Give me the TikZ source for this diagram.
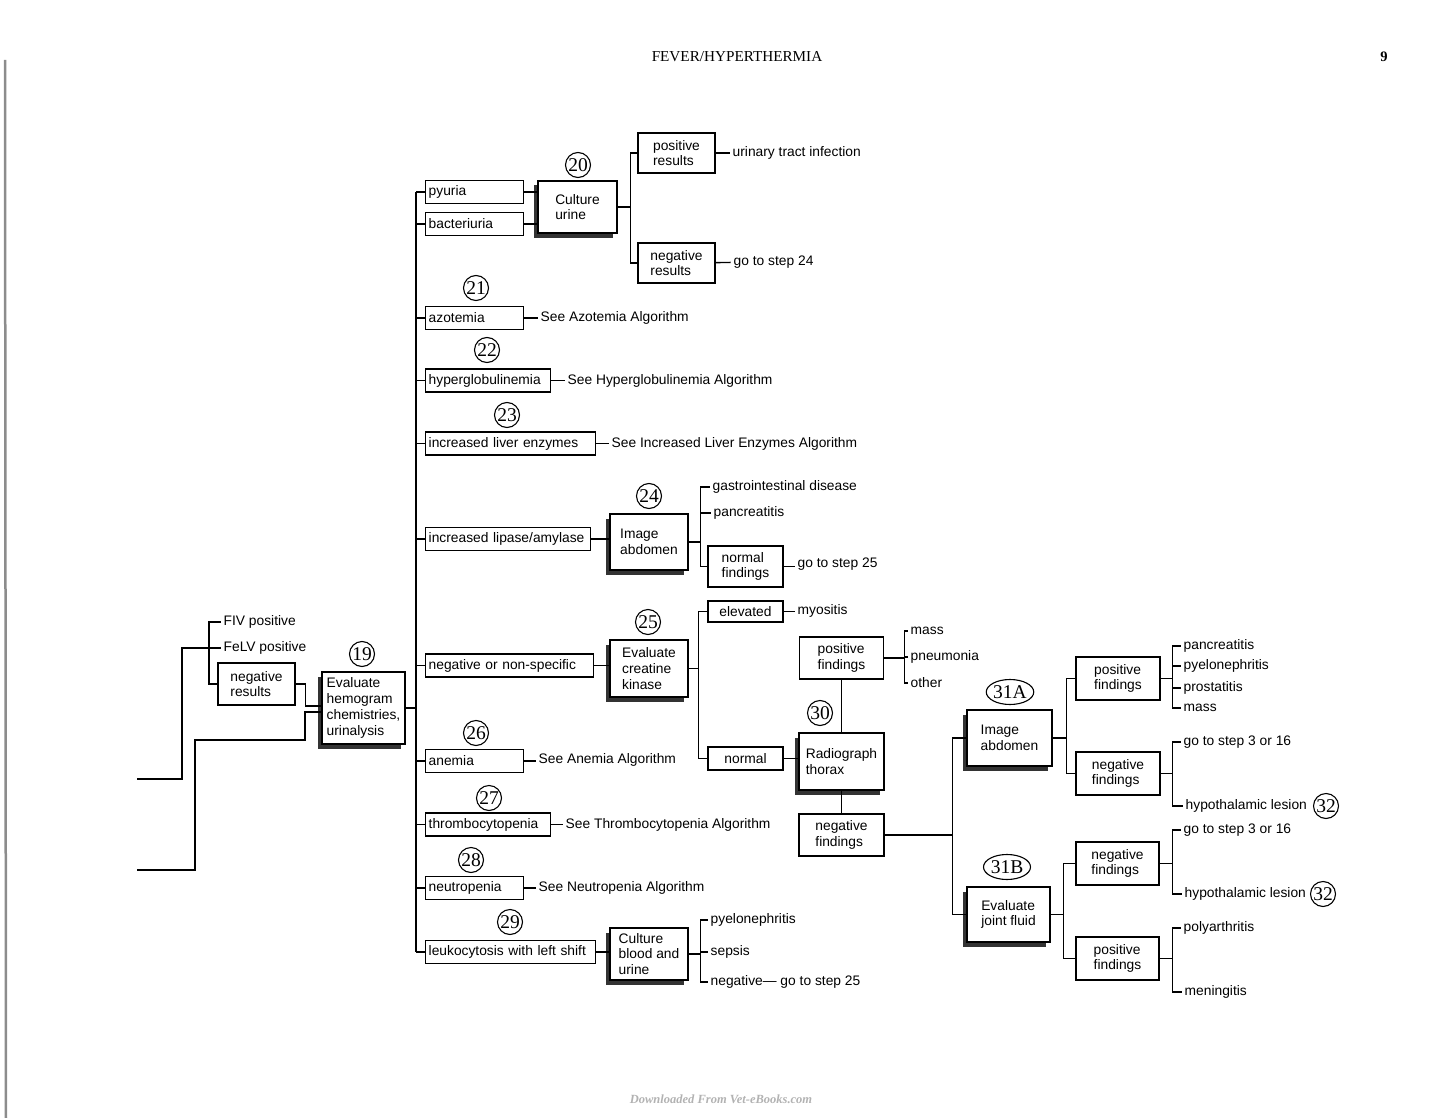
\documentclass[tikz,border=0pt]{standalone}
\usepackage{fontspec}
\setmainfont{Liberation Serif}
\setsansfont{Liberation Sans}
\usetikzlibrary{shadows,shapes.geometric,calc}

\tikzset{
  txt/.style={font=\sffamily\fontsize{13.8}{15.8}\selectfont},
  cond/.style={txt, draw, fill=white, anchor=west, align=left, text width=#1,
    inner xsep=3pt, inner ysep=0pt, minimum height=23pt},
  find/.style={txt, draw, fill=white, align=left, inner sep=0pt},
  stepbox/.style={find, drop shadow={shadow xshift=-4.5pt, shadow yshift=-4.5pt,
    fill=black!80, opacity=1}},
  leaf/.style={txt, anchor=west, inner xsep=2.5pt, inner ysep=1pt},
  num/.style={draw, circle, line width=1.1pt, inner sep=0pt, minimum size=25pt,
    font=\fontsize{19.5}{19.5}\selectfont},
  numo/.style={num, ellipse, minimum width=47pt, minimum height=25pt}
}

\begin{document}
\begin{tikzpicture}[x=1pt, y=-1pt, line width=1.4pt]
\useasboundingbox (0,0) rectangle (1445,1118);
\draw (737,57) node[font=\fontsize{15.2}{15.2}\selectfont] (title) {FEVER/HYPERTHERMIA};
\draw (1384,57) node[font=\bfseries\fontsize{14.5}{14.5}\selectfont] (pagenum) {9};
\draw[black!45, line width=2.5pt] (5,60) -- (6,1118);
\draw (721,1099) node[font=\bfseries\itshape\fontsize{12.5}{12.5}\selectfont, text=black!30] (wm) {Downloaded From Vet-eBooks.com};

\draw (363.5,708) node[stepbox, minimum width=83pt, minimum height=72pt] (b19) {Evaluate\\hemogram\\chemistries,\\urinalysis};
\draw (362,654) node[num] (c19) {19};
\draw (220.5,622) node[leaf] (fiv) {FIV positive};
\draw (220.5,648) node[leaf] (felv) {FeLV positive};
\draw (256.5,684) node[find, minimum width=77pt, minimum height=42pt] (neg0) {negative\\results};
\coordinate (in1) at (137,779);
\coordinate (in2) at (137,870);
\coordinate (s0) at (209,622);
\draw (in1) -- ++(45,0) |- (s0 |- felv.west);
\draw (s0 |- felv.west) -- (felv.west);
\draw (fiv.west) -- (s0) -- (s0 |- neg0.west) -- (neg0.west);
\draw (neg0.east) -- ++(10,0) |- ($(b19.west)+(0,-2)$);
\draw (in2) -- ++(58,0) -- ++(0,-130) -- ++(110,0) |- ($(b19.west)+(0,4)$);

\draw (425,192) node[cond=92pt] (pyuria) {pyuria};
\draw (425,224) node[cond=92pt] (bact) {bacteriuria};
\draw (425,318) node[cond=92pt] (azot) {azotemia};
\draw (425,380.5) node[cond=119pt] (hyper) {hyperglobulinemia};
\draw (425,443.5) node[cond=164pt] (liver) {increased liver enzymes};
\draw (425,539) node[cond=159pt] (lipase) {increased lipase/amylase};
\draw (425,665.5) node[cond=162pt] (nonspec) {negative or non-specific};
\draw (425,761) node[cond=92pt] (anemia) {anemia};
\draw (425,824.5) node[cond=119pt] (thromb) {thrombocytopenia};
\draw (425,888) node[cond=92pt] (neutro) {neutropenia};
\draw (425,952) node[cond=164pt] (leuko) {leukocytosis with left shift};
\coordinate (trunk) at (416,708);
\draw (b19.east) -- (trunk);
\draw (trunk |- pyuria.west) -- (trunk |- leuko.west);
\foreach \n in {pyuria,bact,azot,hyper,liver,lipase,nonspec,anemia,thromb,neutro,leuko}
  \draw (trunk |- \n.west) -- (\n.west);

\draw (577.5,207) node[stepbox, minimum width=79pt, minimum height=52pt] (b20) {Culture\\urine};
\draw (578,165) node[num] (c20) {20};
\draw (pyuria.east) -- (pyuria.east -| b20.west);
\draw (bact.east) -- (bact.east -| b20.west);
\draw (676.5,153) node[find, minimum width=77pt, minimum height=40pt] (pos20) {positive\\results};
\draw (676.5,263) node[find, minimum width=77pt, minimum height=40pt] (neg20) {negative\\results};
\draw (b20.east) -- ++(13,0) |- (pos20.west);
\draw (b20.east) -- ++(13,0) |- (neg20.west);
\draw (729.5,153) node[leaf] (uti) {urinary tract infection};
\draw (730.5,262) node[leaf] (step24) {go to step 24};
\draw (pos20) -- (uti);
\draw (neg20) -- (step24);

\draw (476,288) node[num] (c21) {21};
\draw (537.5,318) node[leaf] (azotsee) {See Azotemia Algorithm};
\draw (azot) -- (azotsee);
\draw (487,350) node[num] (c22) {22};
\draw (564.5,380.5) node[leaf] (hypersee) {See Hyperglobulinemia Algorithm};
\draw (hyper) -- (hypersee);
\draw (507,415) node[num] (c23) {23};
\draw (608.5,443.5) node[leaf] (liversee) {See Increased Liver Enzymes Algorithm};
\draw (liver) -- (liversee);

\draw (649,542) node[stepbox, minimum width=78pt, minimum height=56pt] (b24) {Image\\abdomen};
\draw (649,496) node[num] (c24) {24};
\draw (lipase.east) -- (lipase.east -| b24.west);
\draw (709.5,487) node[leaf] (gi) {gastrointestinal disease};
\draw (710.5,513) node[leaf] (panc24) {pancreatitis};
\draw (745.5,566.5) node[find, minimum width=75pt, minimum height=41pt] (norm24) {normal\\findings};
\foreach \n in {gi,panc24,norm24}
  \draw (b24.east) -- ++(12,0) |- (\n.west);
\draw (794.5,564) node[leaf] (step25a) {go to step 25};
\draw (norm24.east) -- (norm24.east -| step25a.west);

\draw (649,668.5) node[stepbox, minimum width=78pt, minimum height=57pt] (b25) {Evaluate\\creatine\\kinase};
\draw (648,622) node[num] (c25) {25};
\draw (nonspec.east) -- (nonspec.east -| b25.west);
\draw (745.5,611.5) node[find, minimum width=75pt, minimum height=21pt] (elev) {elevated};
\draw (745.5,758.5) node[find, minimum width=75pt, minimum height=23pt] (norm25) {normal};
\draw (b25.east) -- ++(10,0) |- (elev.west);
\draw (b25.east) -- ++(10,0) |- (norm25.west);
\draw (794.5,611) node[leaf] (myos) {myositis};
\draw (elev.east) -- (elev.east -| myos.west);

\draw (841.5,761.5) node[stepbox, minimum width=85pt, minimum height=57pt] (b30) {Radiograph\\thorax};
\draw (820,713) node[num] (c30) {30};
\draw (norm25.east) -- (norm25.east -| b30.west);
\draw (841.5,658) node[find, minimum width=84pt, minimum height=42pt] (pos30) {positive\\findings};
\draw (841.5,835) node[find, minimum width=85pt, minimum height=42pt] (neg30) {negative\\findings};
\draw (b30.north) -- (pos30.south);
\draw (b30.south) -- (neg30.north);
\draw (907.5,631) node[leaf] (mass30) {mass};
\draw (907.5,657) node[leaf] (pneu) {pneumonia};
\draw (907.5,683) node[leaf] (other) {other};
\foreach \n in {mass30,pneu,other}
  \draw (pos30.east) -- ++(20,0) |- (\n.west);

\draw (476,733) node[num] (c26) {26};
\draw (535.5,760) node[leaf] (anemiasee) {See Anemia Algorithm};
\draw (anemia.east) -- (anemia.east -| anemiasee.west);
\draw (489,798) node[num] (c27) {27};
\draw (562.5,824.5) node[leaf] (thrombsee) {See Thrombocytopenia Algorithm};
\draw (thromb) -- (thrombsee);
\draw (471,860) node[num] (c28) {28};
\draw (535.5,888) node[leaf] (neutrosee) {See Neutropenia Algorithm};
\draw (neutro) -- (neutrosee);

\draw (649,954) node[stepbox, minimum width=78pt, minimum height=52pt] (b29) {Culture\\blood and\\urine};
\draw (510,922) node[num] (c29) {29};
\draw (leuko.east) -- (leuko.east -| b29.west);
\draw (707.5,920) node[leaf] (pyelo29) {pyelonephritis};
\draw (707.5,952) node[leaf] (sepsis) {sepsis};
\draw (707.5,982) node[leaf] (neg29) {negative— go to step 25};
\foreach \n in {pyelo29,sepsis,neg29}
  \draw (b29.east) -- ++(12,0) |- (\n.west);

\draw (1009.5,738) node[stepbox, minimum width=85pt, minimum height=56pt] (b31a) {Image\\abdomen};
\draw (1010,692) node[numo] (c31a) {31A};
\draw (1008.5,914.5) node[stepbox, minimum width=83pt, minimum height=55pt] (b31b) {Evaluate\\joint fluid};
\draw (1007,867) node[numo] (c31b) {31B};
\draw (neg30.east) -- ++(68,0) |- (b31a.west);
\draw (neg30.east) -- ++(68,0) |- (b31b.west);

\draw (1118,678.5) node[find, minimum width=84pt, minimum height=43pt] (pos31a) {positive\\findings};
\draw (1118,773.5) node[find, minimum width=84pt, minimum height=43pt] (neg31a) {negative\\findings};
\draw (b31a.east) -- ++(14,0) |- (pos31a.west);
\draw (b31a.east) -- ++(14,0) |- (neg31a.west);
\draw (1180.5,646) node[leaf] (panc31) {pancreatitis};
\draw (1180.5,666) node[leaf] (pyelo31) {pyelonephritis};
\draw (1180.5,688) node[leaf] (prost) {prostatitis};
\draw (1180.5,708) node[leaf] (mass31) {mass};
\foreach \n in {panc31,pyelo31,prost,mass31}
  \draw (pos31a.east) -- ++(12,0) |- (\n.west);
\draw (1180.5,742) node[leaf] (step3a) {go to step 3 or 16};
\draw (1182.5,806) node[leaf] (hypo1) {hypothalamic lesion};
\draw (1326,806) node[num] (c32a) {32};
\foreach \n in {step3a,hypo1}
  \draw (neg31a.east) -- ++(12,0) |- (\n.west);

\draw (1117.5,863.5) node[find, minimum width=83pt, minimum height=43pt] (neg31b) {negative\\findings};
\draw (1117.5,958.5) node[find, minimum width=83pt, minimum height=43pt] (pos31b) {positive\\findings};
\draw (b31b.east) -- ++(13,0) |- (neg31b.west);
\draw (b31b.east) -- ++(13,0) |- (pos31b.west);
\draw (1180.5,830) node[leaf] (step3b) {go to step 3 or 16};
\draw (1181.5,894) node[leaf] (hypo2) {hypothalamic lesion};
\draw (1323,894) node[num] (c32b) {32};
\foreach \n in {step3b,hypo2}
  \draw (neg31b.east) -- ++(13,0) |- (\n.west);
\draw (1180.5,928) node[leaf] (polyar) {polyarthritis};
\draw (1181.5,992) node[leaf] (mening) {meningitis};
\foreach \n in {polyar,mening}
  \draw (pos31b.east) -- ++(13,0) |- (\n.west);
\end{tikzpicture}
\end{document}
